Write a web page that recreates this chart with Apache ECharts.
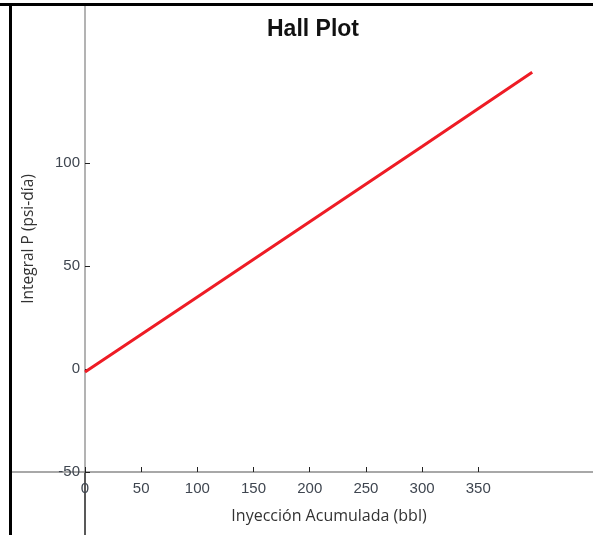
<!DOCTYPE html>
<html>
<head>
<meta charset="utf-8">
<script src="https://cdn.jsdelivr.net/npm/echarts@6/dist/echarts.min.js"></script>
<style>html,body{margin:0;padding:0;background:#fff}#c{width:593px;height:535px}</style>
</head>
<body>
<div id="c"></div>
<script>
var xValues = [0, 100, 200, 300, 398];
var yValues = [-1.5, 35, 71.5, 108, 144];
var xTicks = [0, 50, 100, 150, 200, 250, 300, 350];
var yTicks = [-50, 0, 50, 100];
var titleText = 'Hall Plot';
var xName = 'Inyección Acumulada (bbl)';
var yName = 'Integral P (psi-día)';

var seriesData = xValues.map(function (x, i) { return [x, yValues[i]]; });
var labelColor = '#3f4650';
var yMin = -50, yMax = 176.2, xMinFull = -64.96, xMax = 452.1;
var noBounds = {containLabel: false, outerBoundsMode: 'none'};
function g(o) { return Object.assign({}, noBounds, o); }
var chart = echarts.init(document.getElementById('c'), null, {renderer: 'canvas'});
chart.setOption({
  animation: false,
  backgroundColor: '#fff',
  title: {
    text: titleText, left: 267, top: 18, padding: 0,
    textStyle: {fontFamily: 'Liberation Sans', fontWeight: 'bold', fontSize: 23, lineHeight: 23, color: '#111'}
  },
  graphic: [
    {type: 'rect', shape: {x: 0, y: 3, width: 593, height: 3}, style: {fill: '#000'}, z: 100},
    {type: 'rect', shape: {x: 9, y: 3, width: 3, height: 532}, style: {fill: '#000'}, z: 100}
  ],
  grid: [
    g({left: 12, right: 0, top: 6, bottom: 63}),
    g({left: 85, right: 0, top: 6, bottom: 63}),
    g({left: 85, right: 0, top: 472, bottom: 0})
  ],
  xAxis: [
    {
      type: 'value', gridIndex: 0, min: xMinFull, max: xMax,
      name: xName, nameLocation: 'middle', nameGap: 36,
      nameTextStyle: {fontFamily: 'Open Sans', fontSize: 16, color: '#333', padding: [0, 0, 0, 53]},
      axisLine: {onZero: false, lineStyle: {color: '#8c8c8c', width: 1.5}},
      axisTick: {show: true, inside: true, length: 5, customValues: xTicks, lineStyle: {color: '#222', width: 1}},
      axisLabel: {customValues: xTicks, margin: 9, fontFamily: 'Liberation Sans', fontSize: 15, color: labelColor},
      splitLine: {show: false}
    },
    {type: 'value', gridIndex: 1, min: 0, max: xMax, show: false},
    {type: 'value', gridIndex: 2, min: 0, max: xMax, show: false}
  ],
  yAxis: [
    {type: 'value', gridIndex: 0, min: yMin, max: yMax, show: false},
    {
      type: 'value', gridIndex: 1, min: yMin, max: yMax,
      name: yName, nameLocation: 'middle', nameGap: 48,
      nameTextStyle: {fontFamily: 'Open Sans', fontSize: 15.5, color: '#333'},
      axisLine: {show: true, onZero: false, lineStyle: {color: '#9a9a9a', width: 1.5}},
      axisTick: {show: true, inside: true, length: 5, customValues: yTicks, lineStyle: {color: '#222', width: 1}},
      axisLabel: {customValues: yTicks, margin: 5, fontFamily: 'Liberation Sans', fontSize: 15, color: labelColor},
      splitLine: {show: false}
    },
    {
      type: 'value', gridIndex: 2, min: 0, max: 1,
      axisLine: {show: true, onZero: false, lineStyle: {color: '#222', width: 1.5}},
      axisTick: {show: false}, axisLabel: {show: false}, splitLine: {show: false}
    }
  ],
  series: [{
    type: 'line', xAxisIndex: 1, yAxisIndex: 1,
    data: seriesData, showSymbol: false, symbol: 'none',
    lineStyle: {color: '#ee1c25', width: 3}
  }]
});
</script>
</body>
</html>
